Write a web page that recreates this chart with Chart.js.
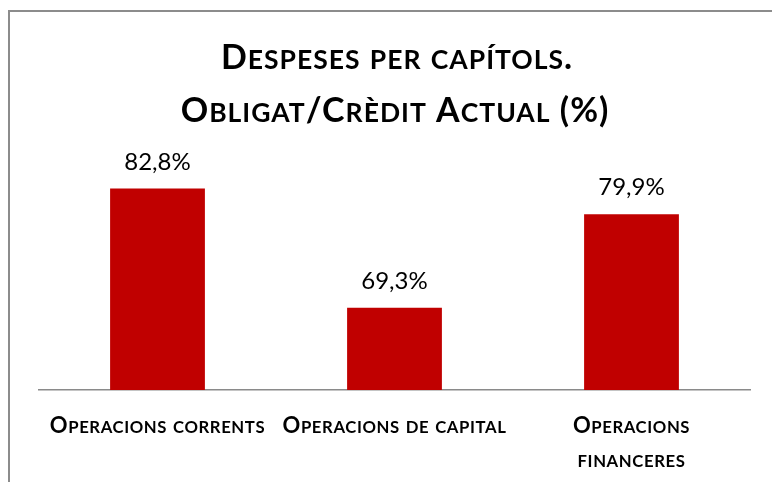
<!DOCTYPE html>
<html>
<head>
<meta charset="utf-8">
<script src="https://cdn.jsdelivr.net/npm/chart.js@4"></script>
<style>
  html, body { margin: 0; padding: 0; background: #ffffff; }
  #wrap { position: relative; width: 772px; height: 482px; }
</style>
</head>
<body>
<div id="wrap"><canvas id="c"></canvas></div>
<script>
// ---- data ----
const categories = [['Operacions corrents'], ['Operacions de capital'], ['Operacions', 'financeres']];
const values = [82.8, 69.3, 79.9];
const titleLines = ['Despeses per capítols.', 'Obligat/Crèdit Actual (%)'];
const yMin = 60;
const yMax = 90;

// ---- helpers ----
const FAMILY = 'Lato, "Open Sans", sans-serif';
function smallCapsRuns(text) {
  const runs = [];
  for (const ch of text) {
    const up = ch.toUpperCase();
    const small = ch !== up;
    const last = runs[runs.length - 1];
    if (last && last.small === small) last.t += up; else runs.push({ t: up, small });
  }
  return runs;
}
function drawSmallCaps(ctx, text, cx, baseline, size, ratio, weight, spacing) {
  const runs = smallCapsRuns(text);
  ctx.letterSpacing = (spacing || 0) + 'px';
  let total = 0;
  for (const r of runs) {
    ctx.font = weight + ' ' + (r.small ? size * ratio : size) + 'px ' + FAMILY;
    r.w = ctx.measureText(r.t).width;
    total += r.w;
  }
  let x = cx - total / 2;
  ctx.textAlign = 'left';
  ctx.textBaseline = 'alphabetic';
  for (const r of runs) {
    ctx.font = weight + ' ' + (r.small ? size * ratio : size) + 'px ' + FAMILY;
    ctx.fillText(r.t, x, baseline);
    x += r.w;
  }
  ctx.letterSpacing = '0px';
}

const decorPlugin = {
  id: 'decor',
  beforeDraw(chart) {
    const ctx = chart.ctx;
    ctx.save();
    ctx.fillStyle = '#ffffff';
    ctx.fillRect(0, 0, chart.width, chart.height);
    ctx.strokeStyle = '#8c8c8c';
    ctx.lineWidth = 2;
    ctx.strokeRect(9, 11, 900, 600);
    ctx.restore();
  },
  afterDraw(chart) {
    const ctx = chart.ctx;
    ctx.save();
    ctx.fillStyle = '#000000';
    // title
    drawSmallCaps(ctx, titleLines[0], 397, 69, 34, 0.78, 'bold', 1);
    drawSmallCaps(ctx, titleLines[1], 395, 122, 34, 0.78, 'bold', 1);
    // x labels
    const xs = chart.scales.x;
    categories.forEach((lines, i) => {
      const cx = xs.getPixelForValue(i);
      lines.forEach((ln, j) => {
        drawSmallCaps(ctx, ln, cx, 433 + j * 34, 22, 0.76, 'bold', 0.6);
      });
    });
    // data labels
    const meta = chart.getDatasetMeta(0);
    ctx.font = 'normal 24px ' + FAMILY;
    ctx.textAlign = 'center';
    ctx.textBaseline = 'alphabetic';
    meta.data.forEach((bar, i) => {
      const txt = values[i].toFixed(1).replace('.', ',') + '%';
      ctx.fillText(txt, bar.x, bar.y - 19);
    });
    ctx.restore();
  }
};

new Chart(document.getElementById('c'), {
  type: 'bar',
  data: {
    labels: categories,
    datasets: [{
      data: values,
      backgroundColor: '#c00000',
      borderWidth: 0,
      barPercentage: 0.4,
      categoryPercentage: 1.0
    }]
  },
  options: {
    responsive: true,
    maintainAspectRatio: false,
    animation: false,
    layout: { padding: { left: 39, right: 22, top: 125, bottom: 92 } },
    plugins: { legend: { display: false }, tooltip: { enabled: false }, title: { display: false } },
    scales: {
      x: {
        display: true,
        grid: { display: false, drawTicks: false },
        ticks: { display: false },
        border: { display: true, color: '#8a8a8a', width: 1.5 }
      },
      y: {
        display: false,
        min: yMin,
        max: yMax
      }
    }
  },
  plugins: [decorPlugin]
});
</script>
</body>
</html>
